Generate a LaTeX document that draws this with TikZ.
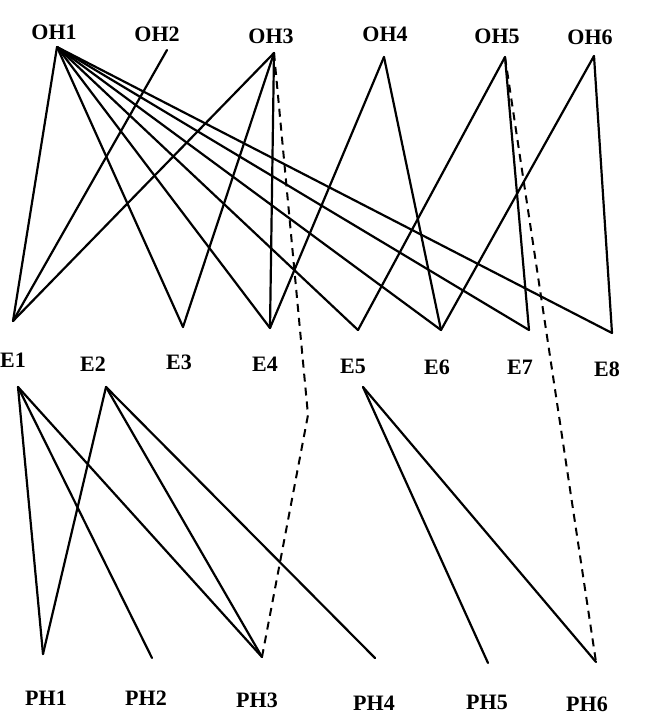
\documentclass[tikz,border=0pt]{standalone}
\usepackage{fontspec}
\setmainfont{Liberation Serif}
\begin{document}
\begin{tikzpicture}[x=1pt,y=-1pt,
  lab/.style={font=\fontsize{22}{25}\selectfont\bfseries, inner sep=0pt, text height=15pt, text depth=0pt},
  edge/.style={line width=2.2pt, line join=miter, line cap=round},
  dash edge/.style={line width=2pt, dash pattern=on 8pt off 6pt}]
\useasboundingbox (0,0) rectangle (648,724);
% vertices
\coordinate (oh1) at (57,47);
\coordinate (oh2) at (167,50);
\coordinate (oh3) at (274,53);
\coordinate (oh4) at (384,57);
\coordinate (oh5) at (505,57);
\coordinate (oh6) at (594,56);
\coordinate (e1) at (13,321);
\coordinate (e3) at (183,327);
\coordinate (e4) at (270,328);
\coordinate (e5) at (358,330);
\coordinate (e6) at (441,330);
\coordinate (e7) at (529,330);
\coordinate (e8) at (612,333);
\coordinate (e1b) at (18,387);
\coordinate (e2b) at (106,387);
\coordinate (e5b) at (363,387);
\coordinate (ph1) at (43,654);
\coordinate (ph2) at (152,658);
\coordinate (ph3) at (262,657);
\coordinate (ph4) at (375,658);
\coordinate (ph5) at (488,663);
\coordinate (ph6) at (596,662);
\coordinate (k3) at (308,415);
% labels
\node[lab] (loh1) at (54,32) {OH1};
\node[lab] (loh2) at (157,34) {OH2};
\node[lab] (loh3) at (271,36) {OH3};
\node[lab] (loh4) at (385,34) {OH4};
\node[lab] (loh5) at (497,36) {OH5};
\node[lab] (loh6) at (590,37) {OH6};
\node[lab] (le1) at (13,360) {E1};
\node[lab] (le2) at (93,364) {E2};
\node[lab] (le3) at (179,362) {E3};
\node[lab] (le4) at (265,364) {E4};
\node[lab] (le5) at (353,366) {E5};
\node[lab] (le6) at (437,367) {E6};
\node[lab] (le7) at (520,367) {E7};
\node[lab] (le8) at (607,369) {E8};
\node[lab] (lph1) at (46,698) {PH1};
\node[lab] (lph2) at (146,698) {PH2};
\node[lab] (lph3) at (257,700) {PH3};
\node[lab] (lph4) at (374,703) {PH4};
\node[lab] (lph5) at (487,702) {PH5};
\node[lab] (lph6) at (587,704) {PH6};
% top edges
\foreach \t in {e1,e3,e4,e5,e6,e7,e8} \draw[edge] (oh1) -- (\t);
\draw[edge] (oh2) -- (e1);
\foreach \t in {e1,e3,e4} \draw[edge] (oh3) -- (\t);
\foreach \t in {e4,e6} \draw[edge] (oh4) -- (\t);
\foreach \t in {e5,e7} \draw[edge] (oh5) -- (\t);
\foreach \t in {e6,e8} \draw[edge] (oh6) -- (\t);
% bottom edges
\foreach \t in {ph1,ph2,ph3} \draw[edge] (e1b) -- (\t);
\foreach \t in {ph1,ph3,ph4} \draw[edge] (e2b) -- (\t);
\foreach \t in {ph5,ph6} \draw[edge] (e5b) -- (\t);
% dashed
\draw[dash edge] (oh3) -- (k3) -- (ph3);
\draw[dash edge] (oh5) -- (ph6);
\end{tikzpicture}
\end{document}
